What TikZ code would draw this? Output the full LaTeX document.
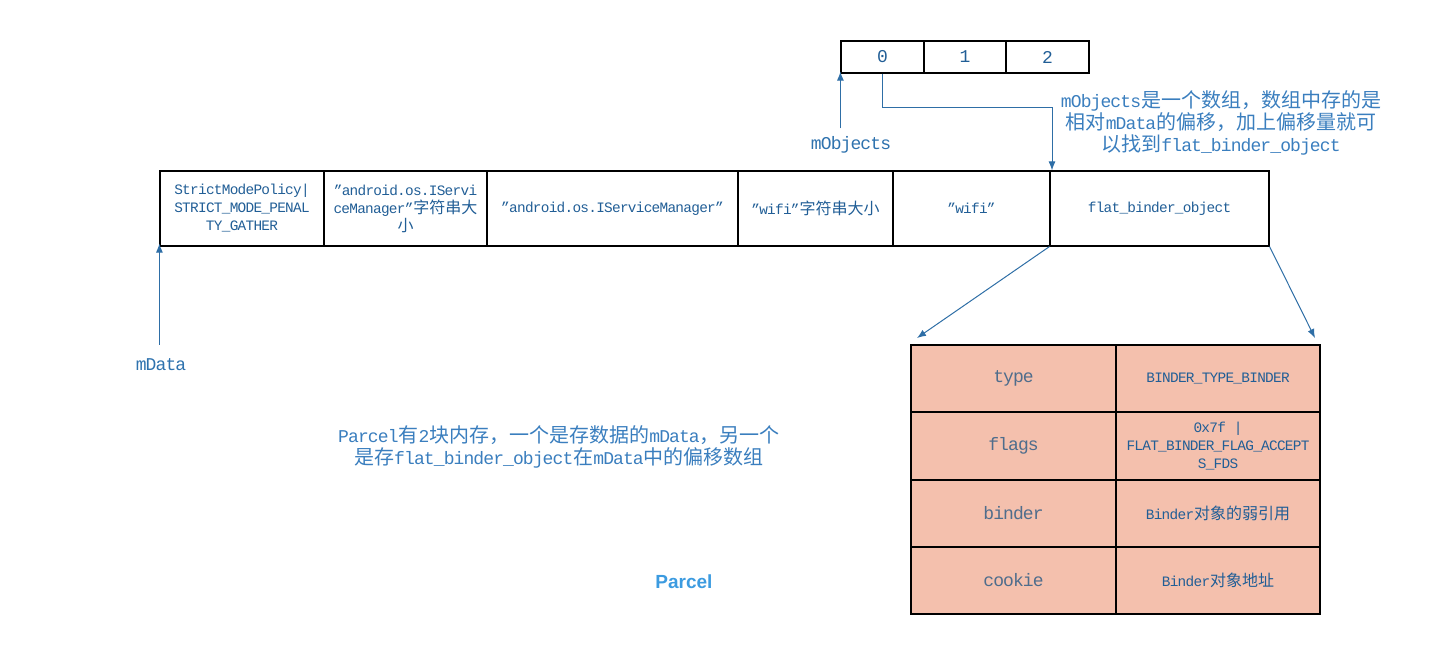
\documentclass[tikz,border=0pt]{standalone}
\usepackage{fontspec}
\setmainfont{Liberation Mono}[Scale=0.9,LetterSpace=-5]
\newfontfamily\cjk{Noto Sans CJK SC}
\newfontfamily\parcelfont{Liberation Sans}
\newcommand\zh[1]{{\cjk #1}}
\usetikzlibrary{arrows.meta}
\definecolor{celltxt}{HTML}{215E96}
\definecolor{notetxt}{HTML}{3A7EBE}
\definecolor{lbltxt}{HTML}{2E72AE}
\definecolor{arrcol}{HTML}{2E6EA6}
\definecolor{pinkfill}{HTML}{F4C0AD}
\definecolor{fieldtxt}{HTML}{4F6D8C}
\definecolor{parcelblue}{HTML}{3C9BE0}
\begin{document}
\begin{tikzpicture}[x=1pt,y=-1pt,
  cell/.style={draw=black,line width=1.2pt,inner sep=0pt,align=center,
    font=\fontsize{16}{18}\selectfont,text=celltxt},
  idxcell/.style={cell,font=\fontsize{20}{22}\selectfont},
  fieldcell/.style={cell,fill=pinkfill,font=\fontsize{20}{22}\selectfont,text=fieldtxt},
  valcell/.style={cell,fill=pinkfill},
  lbl/.style={font=\fontsize{20}{22}\selectfont,text=lbltxt,inner sep=0pt},
  note/.style={font=\fontsize{20}{22}\selectfont,text=notetxt,align=center,inner sep=0pt},
  arr/.style={draw=arrcol,line width=1pt,-{Latex[length=9pt,width=7pt]}}]
\useasboundingbox (0,0) rectangle (1452,655);
% top array
\node[idxcell,minimum width=83,minimum height=32] (a0) at (882.5,57) {0};
\node[idxcell,minimum width=82,minimum height=32] (a1) at (965,57) {1};
\node[idxcell,minimum width=83,minimum height=32] (a2) at (1047.5,57) {2};
% main row
\node[cell,minimum width=164,minimum height=75] (c1) at (242,208.5) {StrictModePolicy|\\STRICT\_MODE\_PENAL\\TY\_GATHER};
\node[cell,minimum width=163,minimum height=75] (c2) at (405.5,208.5) {”android.os.IServi\\ceManager”\zh{字符串大}\\\zh{小}};
\node[cell,minimum width=251,minimum height=75] (c3) at (612.5,208.5) {”android.os.IServiceManager”};
\node[cell,minimum width=155,minimum height=75] (c4) at (815.5,208.5) {”wifi”\zh{字符串大小}};
\node[cell,minimum width=157,minimum height=75] (c5) at (971.5,208.5) {”wifi”};
\node[cell,minimum width=219,minimum height=75] (c6) at (1159.5,208.5) {flat\_binder\_object};
% bottom table
\node[fieldcell,minimum width=205,minimum height=67] (f1) at (1013.5,378.5) {type};
\node[valcell,minimum width=204,minimum height=67] (v1) at (1218,378.5) {BINDER\_TYPE\_BINDER};
\node[fieldcell,minimum width=205,minimum height=68] (f2) at (1013.5,446) {flags};
\node[valcell,minimum width=204,minimum height=68] (v2) at (1218,446) {0x7f |\\FLAT\_BINDER\_FLAG\_ACCEPT\\S\_FDS};
\node[fieldcell,minimum width=205,minimum height=67] (f3) at (1013.5,513.5) {binder};
\node[valcell,minimum width=204,minimum height=67] (v3) at (1218,513.5) {Binder\zh{对象的弱引用}};
\node[fieldcell,minimum width=205,minimum height=67] (f4) at (1013.5,580.5) {cookie};
\node[valcell,minimum width=204,minimum height=67] (v4) at (1218,580.5) {Binder\zh{对象地址}};
% labels
\node[lbl] (mobj) at (851,145) {mObjects};
\node[lbl] (mdata) at (161,365) {mData};
\node[note] (note1) at (1221,123) {mObjects\zh{是一个数组，数组中存的是}\\\zh{相对}mData\zh{的偏移，加上偏移量就可}\\\zh{以找到}flat\_binder\_object};
\node[note] (note2) at (559,447) {Parcel\zh{有}2\zh{块内存，一个是存数据的}mData\zh{，另一个}\\\zh{是存}flat\_binder\_object\zh{在}mData\zh{中的偏移数组}};
\node[font=\parcelfont\bfseries\fontsize{19}{21}\selectfont,text=parcelblue,inner sep=0pt] (title) at (684,582) {Parcel};
% connectors
\coordinate (bend) at (1052,108);
\coordinate (tl) at (917,338);
\coordinate (tr) at (1315,338);
\draw[arr] (a0.south) |- (bend) -- (bend |- c6.north);
\draw[arr] (a0.south west |- mobj.north) ++(0,-8) -- ([yshift=2pt]a0.south west);
\draw[arr] (c1.south west |- mdata.north) ++(0,-14) -- ([yshift=3pt]c1.south west);
\draw[arr] (c6.south west) -- (tl);
\draw[arr] (c6.south east) -- (tr);
\end{tikzpicture}
\end{document}
